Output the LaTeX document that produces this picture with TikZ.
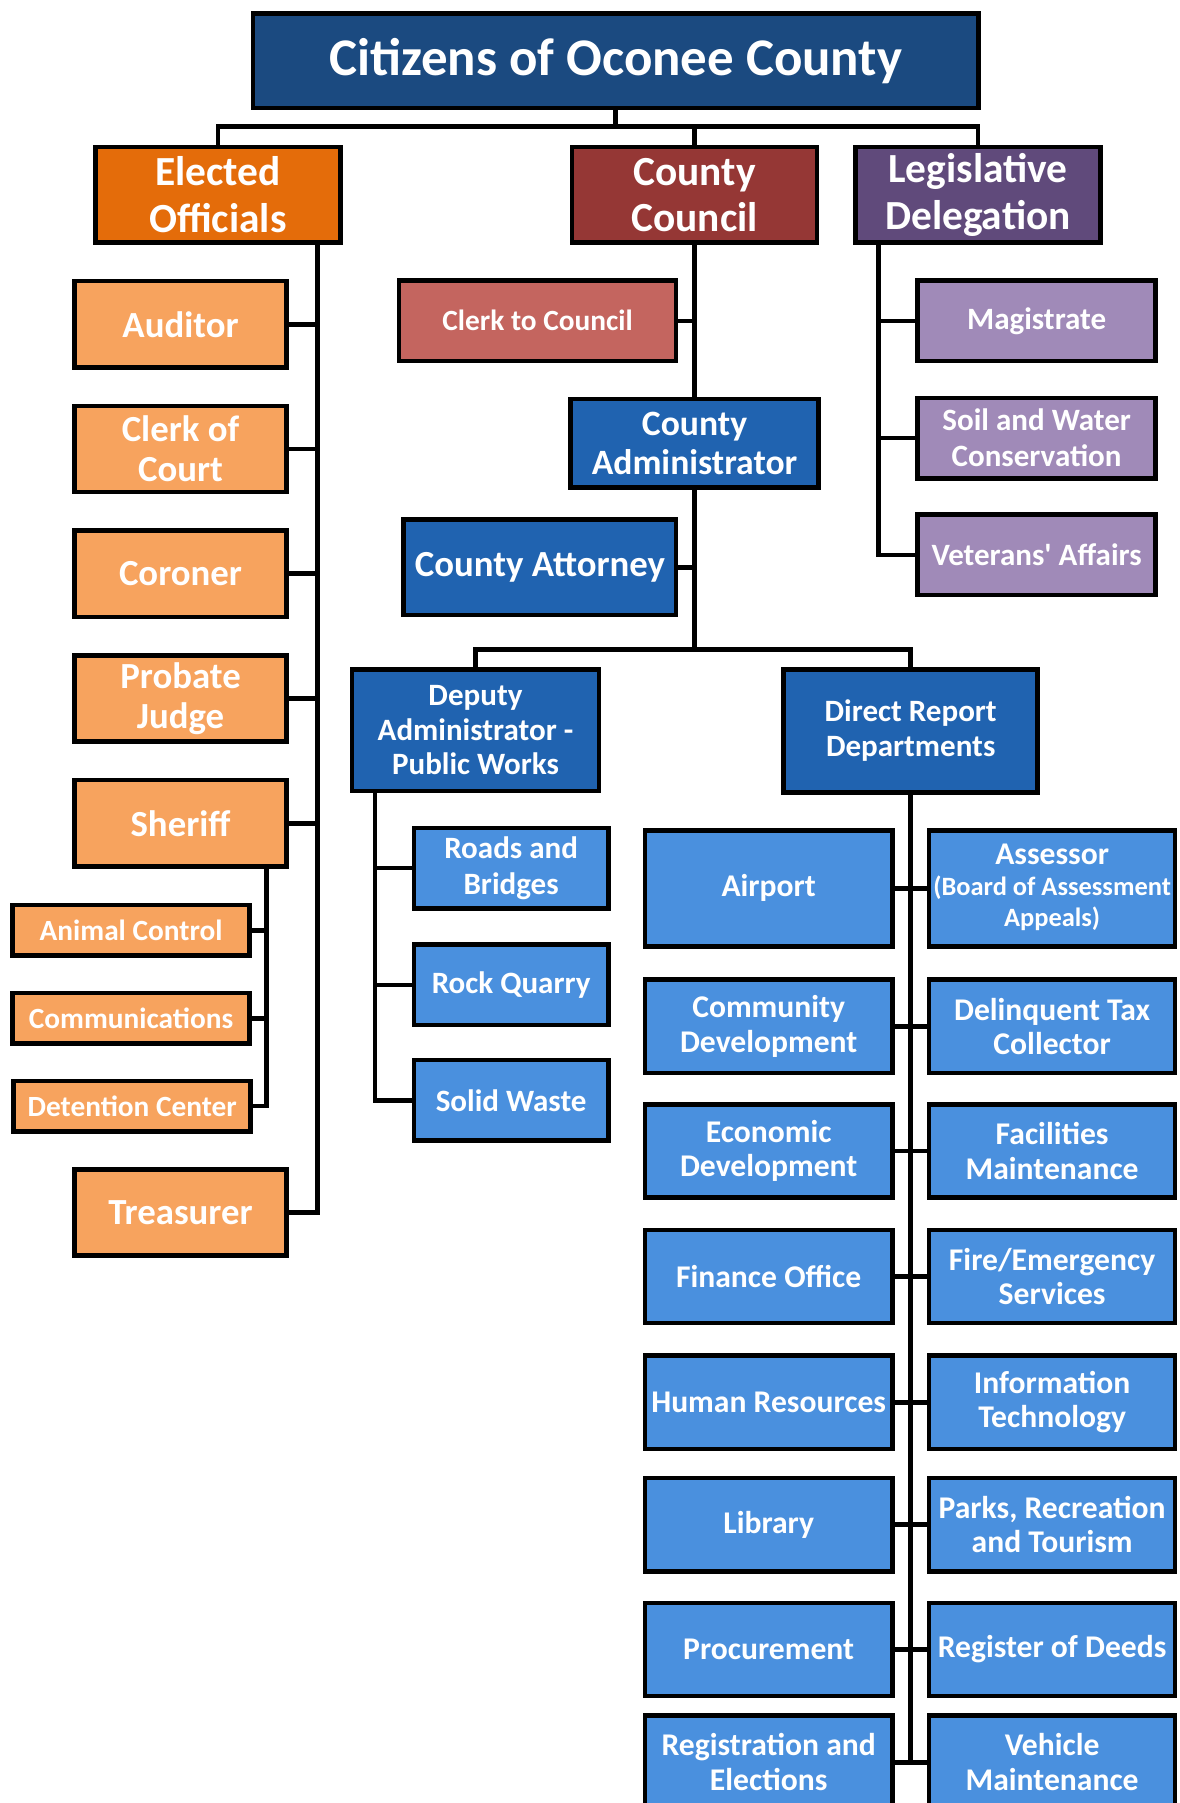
\documentclass[tikz,border=0pt]{standalone}
\usepackage{fontspec}
\setmainfont{Carlito}
\newfontfamily\carlito{Carlito}
\newfontfamily\carlitoplain{Carlito}[Ligatures=TeXOff]
\definecolor{titleblue}{HTML}{1B4A80}
\definecolor{elorange}{HTML}{E46C0A}
\definecolor{councilred}{HTML}{953735}
\definecolor{legispurple}{HTML}{604A7B}
\definecolor{lorange}{HTML}{F7A35E}
\definecolor{clerkred}{HTML}{C4655F}
\definecolor{lpurple}{HTML}{A08AB8}
\definecolor{dblue}{HTML}{2063B0}
\definecolor{lblue}{HTML}{4A90DE}
\newcommand{\fsz}[2]{\fontsize{#1}{#2}\selectfont}
\tikzset{
  box/.style={draw=black, line width=4pt, text=white, align=center, inner sep=0pt},
  conn/.style={draw=black, line width=4pt},
  ttl/.style={box, fill=titleblue, minimum width=631pt, minimum height=82pt, font=\carlito\bfseries\fsz{46}{50}},
  lvl/.style={box, minimum width=213pt, minimum height=83pt, font=\carlito\bfseries\fsz{36}{40.5}},
  orng/.style={box, fill=lorange, minimum width=184pt, minimum height=75pt, font=\carlito\bfseries\fsz{32}{35}},
  sorng/.style={box, fill=lorange, minimum width=206pt, minimum height=44pt, font=\carlito\bfseries\fsz{25.5}{28}},
  purp/.style={box, fill=lpurple, minimum width=207pt, minimum height=70pt, font=\carlito\bfseries\fsz{27}{31.5}},
  dbl/.style={box, fill=dblue, font=\carlito\bfseries\fsz{27}{30}},
  pw/.style={box, fill=lblue, minimum width=169pt, minimum height=70pt, font=\carlito\bfseries\fsz{27}{31}},
  dept/.style={box, fill=lblue, minimum width=215pt, minimum height=81pt, font=\carlito\bfseries\fsz{27.5}{30}},
  deptr/.style={dept, minimum width=214pt},
}
\begin{document}
\begin{tikzpicture}[x=1pt,y=-1pt]
\useasboundingbox (0,0) rectangle (1026,1568);
\fill[white] (0,0) rectangle (1026,1568);
\begin{scope}
\clip (0,0) rectangle (1026,1568);
% top level
\node[ttl] (title) at (535.5,53) {Citizens of Oconee County};
\node[lvl, fill=elorange] (elected) at (189.5,169.5) {Elected\\Officials};
\node[lvl, fill=councilred] (council) at (604,169.5) {County\\Council};
\node[lvl, fill=legispurple] (legis) at (850.5,169.5) {Legislative\\Delegation};
\coordinate (bus1) at (535.5,110);
\draw[conn] (title.south) -- (bus1);
\draw[conn] (elected.north) |- (bus1) -| (legis.north);
\draw[conn] (council.north) -- (council.north |- bus1);

% elected officials
\node[orng] (aud) at (157,282) {Auditor};
\node[orng] (clerkc) at (157,390.5) {Clerk of\\Court};
\node[orng] (cor) at (157,499) {Coroner};
\node[orng] (prob) at (157,607.5) {Probate\\Judge};
\node[orng] (sher) at (157,716) {Sheriff};
\node[orng] (treas) at (157,1054.5) {Treasurer};
\node[sorng] (anim) at (114,809) {Animal Control};
\node[sorng] (comm) at (114,885.5) {Communications};
\node[sorng] (det) at (115,962) {Detention Center};
\coordinate (ex) at (276,0);
\draw[conn] (elected.south -| ex) |- (treas.east);
\foreach \n in {aud,clerkc,cor,prob,sher} \draw[conn] (\n.east) -- (\n.east -| ex);
\coordinate (sx) at (232,0);
\draw[conn] (sher.south -| sx) |- (det.east);
\foreach \n in {anim,comm} \draw[conn] (\n.east) -- (\n.east -| sx);

% county council
\node[box, fill=clerkred, minimum width=241pt, minimum height=70pt, font=\carlito\bfseries\fsz{25.5}{28}] (clerk) at (467.5,279) {Clerk to Council};
\node[dbl, minimum width=216pt, minimum height=77pt, font=\carlito\bfseries\fsz{31}{34}] (admin) at (604,385.5) {County\\Administrator};
\node[dbl, minimum width=237pt, minimum height=83pt, font=\carlito\bfseries\fsz{32}{35}] (atty) at (469.5,493.5) {County Attorney};
\draw[conn] (council.south) -- (admin.north);
\draw[conn] (clerk.east) -- (clerk.east -| council.south);
\draw[conn] (atty.east) -- (atty.east -| admin.south);
\node[dbl, minimum width=215pt, minimum height=106pt] (deputy) at (413.5,635) {Deputy\\Administrator -\\Public Works};
\node[dbl, minimum width=221pt, minimum height=107pt] (direct) at (792,635.5) {Direct Report\\Departments};
\coordinate (bus2) at (604,565);
\draw[conn] (admin.south) -- (bus2);
\draw[conn] (deputy.north) |- (bus2) -| (direct.north);

% public works
\node[pw] (roads) at (444.5,755) {Roads and\\Bridges};
\node[pw] (rock) at (444.5,856.5) {Rock Quarry};
\node[pw] (solid) at (444.5,957) {Solid Waste};
\coordinate (dx) at (326,0);
\draw[conn] (deputy.south -| dx) |- (solid.west);
\foreach \n in {roads,rock} \draw[conn] (\n.west) -- (\n.west -| dx);

% legislative delegation
\node[purp] (mag) at (901.5,279) {Magistrate};
\node[purp] (soil) at (901.5,381) {Soil and Water\\Conservation};
\node[purp, font=\carlitoplain\bfseries\fsz{27}{31.5}] (vet) at (901.5,482.5) {Veterans' Affairs};
\coordinate (lx) at (764,0);
\draw[conn] (legis.south -| lx) |- (vet.west);
\foreach \n in {mag,soil} \draw[conn] (\n.west) -- (\n.west -| lx);

% direct report departments
\node[dept, minimum height=101pt] (l1) at (668.5,772.5) {Airport};
\node[deptr, minimum height=101pt] (r1) at (915,772.5) {\raisebox{-4pt}{\begin{tabular}{@{}c@{}}Assessor\\[-3pt]{\fsz{23}{25}(Board of Assessment}\\[-3pt]{\fsz{23}{25}Appeals)}\end{tabular}}};
\node[dept] (l2) at (668.5,892.5) {Community\\Development};
\node[deptr] (r2) at (915,892.5) {Delinquent Tax\\Collector};
\node[dept] (l3) at (668.5,1001) {Economic\\Development};
\node[deptr] (r3) at (915,1001) {Facilities\\Maintenance};
\node[dept] (l4) at (668.5,1110) {Finance Office};
\node[deptr] (r4) at (915,1110) {Fire/Emergency\\Services};
\node[dept] (l5) at (668.5,1219.5) {Human Resources};
\node[deptr] (r5) at (915,1219.5) {Information\\Technology};
\node[dept] (l6) at (668.5,1326) {Library};
\node[deptr] (r6) at (915,1326) {Parks, Recreation\\and Tourism};
\node[dept] (l7) at (668.5,1434.5) {Procurement};
\node[deptr] (r7) at (915,1434.5) {Register of Deeds};
\node[dept] (l8) at (668.5,1532.5) {Registration and\\Elections};
\node[deptr] (r8) at (915,1532.5) {Vehicle\\Maintenance};
\draw[conn] (direct.south) -- (direct.south |- l8.east);
\foreach \i in {1,...,8} \draw[conn] (l\i.east) -- (r\i.west);
\end{scope}
\end{tikzpicture}
\end{document}
